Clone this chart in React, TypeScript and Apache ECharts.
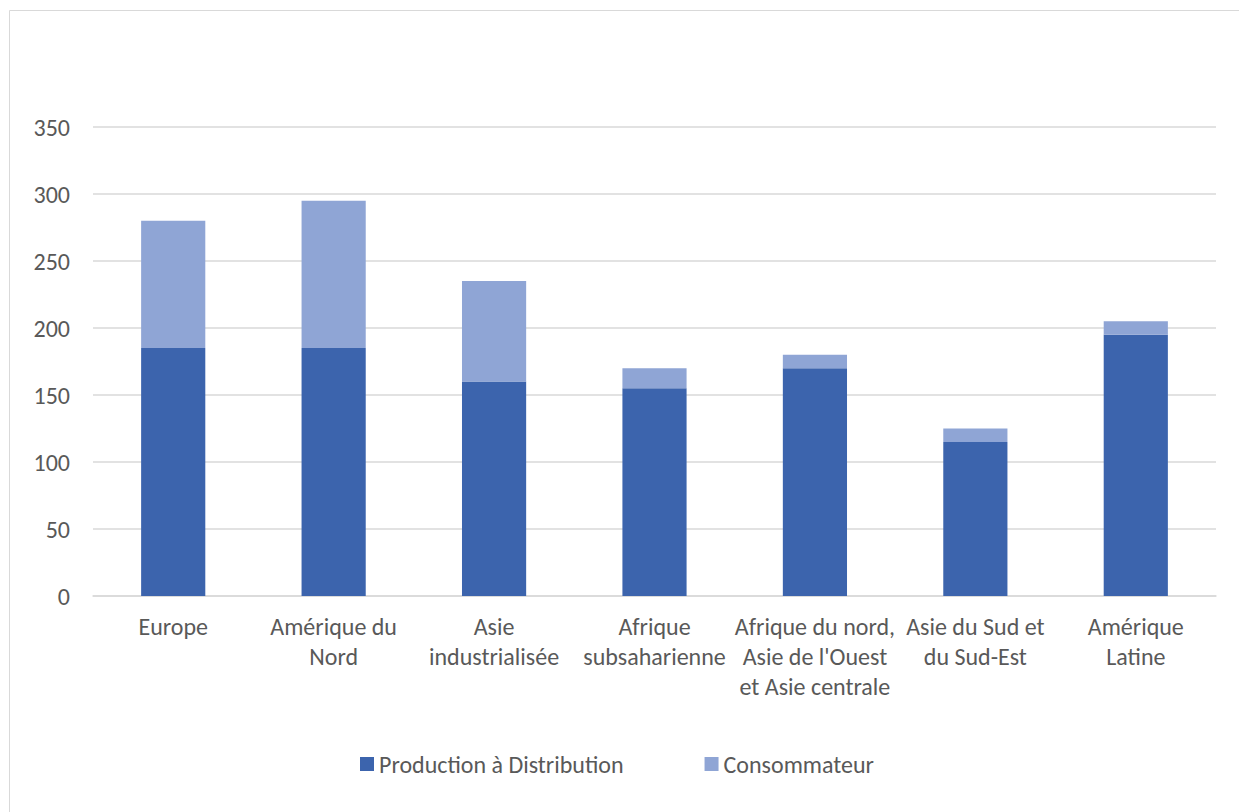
import React, { useEffect, useRef } from "react";
import * as echarts from "echarts";

const categories = [
  "Europe",
  "Amérique du\nNord",
  "Asie\nindustrialisée",
  "Afrique\nsubsaharienne",
  "Afrique du nord,\nAsie de l'Ouest\net Asie centrale",
  "Asie du Sud et\ndu Sud-Est",
  "Amérique\nLatine",
];
const production = [185, 185, 160, 155, 170, 115, 195];
const consommateur = [95, 110, 75, 15, 10, 10, 10];
const seriesNames = ["Production à Distribution", "Consommateur"];
const colors = ["#3C64AD", "#8FA5D5"];

const FONT = "Carlito, Lato, 'Noto Sans', sans-serif";
const TEXT = "#595959";

export default function App() {
  const ref = useRef<HTMLDivElement>(null);

  useEffect(() => {
    if (!ref.current) return;
    const chart = echarts.init(ref.current, undefined, { renderer: "svg" });
    chart.setOption({
      animation: false,
      backgroundColor: "#ffffff",
      textStyle: { fontFamily: FONT, color: TEXT },
      graphic: [
        {
          type: "rect",
          shape: { x: 9.5, y: 10.5, width: 1260, height: 840 },
          style: { fill: "none", stroke: "#d9d9d9", lineWidth: 1 },
          silent: true,
        },
      ],
      grid: { left: 93, right: 23, top: 127, bottom: 216 },
      xAxis: {
        type: "category",
        data: categories,
        axisTick: { show: false },
        axisLine: { lineStyle: { color: "#d9d9d9", width: 1.5 } },
        axisLabel: {
          color: TEXT,
          fontFamily: FONT,
          fontSize: 24,
          lineHeight: 30,
          margin: 15,
          interval: 0,
        },
      },
      yAxis: {
        type: "value",
        min: 0,
        max: 350,
        interval: 50,
        axisLine: { show: false },
        axisTick: { show: false },
        splitLine: { lineStyle: { color: "#d9d9d9", width: 1.5 } },
        axisLabel: { color: TEXT, fontFamily: FONT, fontSize: 24, margin: 23 },
      },
      legend: {
        top: 747,
        left: 355,
        itemWidth: 14,
        itemHeight: 14,
        itemGap: 81,
        icon: "rect",
        textStyle: { color: TEXT, fontFamily: FONT, fontSize: 24 },
        data: seriesNames,
      },
      series: [
        {
          name: seriesNames[0],
          type: "bar",
          stack: "total",
          data: production,
          barWidth: "40%",
          itemStyle: { color: colors[0] },
        },
        {
          name: seriesNames[1],
          type: "bar",
          stack: "total",
          data: consommateur,
          barWidth: "40%",
          itemStyle: { color: colors[1] },
        },
      ],
    });
    return () => chart.dispose();
  }, []);

  return (
    <div
      ref={ref}
      style={{ position: "fixed", left: 0, top: 0, width: 1239, height: 812 }}
    />
  );
}
